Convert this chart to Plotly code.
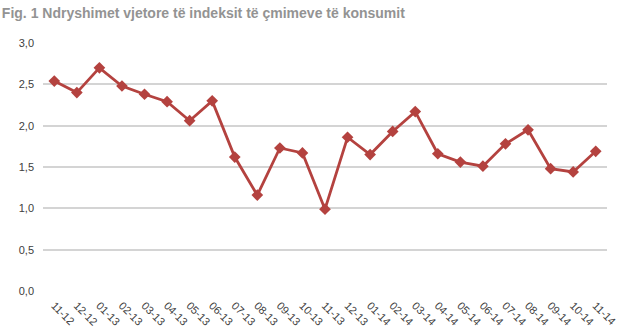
import plotly.graph_objects as go

months = ["11-12", "12-12", "01-13", "02-13", "03-13", "04-13", "05-13", "06-13",
          "07-13", "08-13", "09-13", "10-13", "11-13", "12-13", "01-14", "02-14",
          "03-14", "04-14", "05-14", "06-14", "07-14", "08-14", "09-14", "10-14", "11-14"]
inflation = [2.54, 2.40, 2.70, 2.48, 2.38, 2.29, 2.06, 2.30, 1.62, 1.16, 1.73, 1.67,
             0.99, 1.86, 1.65, 1.93, 2.17, 1.66, 1.56, 1.51, 1.78, 1.95, 1.48, 1.44, 1.69]
y_ticks = [0.0, 0.5, 1.0, 1.5, 2.0, 2.5, 3.0]

title_text = "Fig. 1 Ndryshimet vjetore të indeksit të çmimeve të konsumit"

fig = go.Figure()
fig.add_trace(go.Scatter(
    x=months, y=inflation, mode="lines+markers",
    line=dict(color="#B4423F", width=2.8),
    marker=dict(symbol="diamond", size=9, color="#B4423F"),
    showlegend=False,
))

fig.update_layout(
    width=620, height=335,
    margin=dict(l=43, r=13, t=43, b=44),
    paper_bgcolor="white", plot_bgcolor="white",
    separators=",.",
    font=dict(family="Liberation Sans, Arial, sans-serif", size=11, color="#404040"),
    title=dict(text="<b>" + title_text + "</b>", x=0.003, xanchor="left", y=0.962, yanchor="middle",
               font=dict(family="Liberation Sans, Arial", size=14, color="#939393")),
    xaxis=dict(type="category", showgrid=False, showline=False, zeroline=False,
               tickangle=45, tickfont=dict(size=11, color="#404040"), ticks="",
               ticklabelstandoff=5, automargin=False,
               range=[-0.5, len(months) - 0.5]),
    yaxis=dict(range=[0, 3.0], tickvals=y_ticks, tickformat=".1f",
               showgrid=True, gridcolor="#D4D4D4", gridwidth=1.5,
               zeroline=False, showline=False, ticks="", ticklabelstandoff=8,
               automargin=False,
               tickfont=dict(size=11, color="#404040")),
)

fig.write_html("out.html")
